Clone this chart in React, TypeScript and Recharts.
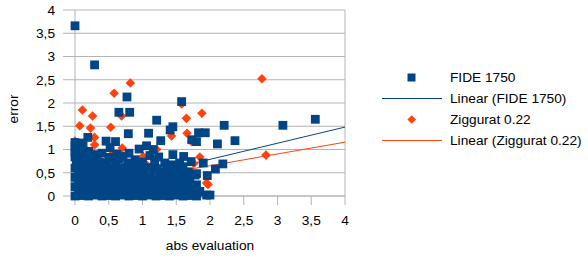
import React from 'react';
import {
  ScatterChart,
  Scatter,
  XAxis,
  YAxis,
  CartesianGrid,
  ReferenceLine,
  Legend,
  Label,
} from 'recharts';

const FONT = '"Liberation Sans", Arial, sans-serif';
const BLUE = '#004586';
const ORANGE = '#ff420e';
const GRID = '#b3b3b3';

const xTicks = [0, 0.5, 1, 1.5, 2, 2.5, 3, 3.5, 4];
const yTicks = [0, 0.5, 1, 1.5, 2, 2.5, 3, 3.5, 4];

// FIDE 1750 — outliers and upper part of the cloud
const fideUpper: [number, number][] = [
  [0.0, 3.66], [0.29, 2.82], [0.77, 2.13], [0.65, 1.8], [0.81, 1.8],
  [1.58, 2.03], [1.21, 1.63], [1.45, 1.49], [1.41, 1.42], [3.08, 1.52],
  [3.56, 1.65], [2.21, 1.52], [2.37, 1.19], [2.11, 1.12], [1.93, 1.36],
  [1.83, 1.36], [1.73, 1.21], [1.8, 1.17], [1.09, 1.35], [0.79, 1.34],
  [1.27, 1.19], [1.06, 1.08], [1.16, 1.0], [1.11, 0.87], [0.89, 0.78],
  [1.45, 0.89], [1.61, 0.85], [1.33, 0.71], [1.43, 0.67], [1.9, 0.71],
  [2.19, 0.69], [2.08, 0.58], [1.8, 0.48], [1.96, 0.44], [1.7, 0.35],
  [1.6, 0.63], [1.95, 0.02], [2.0, 0.02], [1.8, 0.24], [1.78, 0.45],
  [0.19, 1.26], [0.46, 1.18], [0.6, 1.17], [0.4, 0.92], [0.57, 0.82],
  [0.71, 0.85], [0.3, 0.78], [0.0, 1.15], [0.08, 1.14], [0.12, 1.08],
];

// FIDE 1750 — the dense band near zero
const fideBand: [number, number][] = [
  [0, 0], [0.1, 0.01], [0.2, 0], [0.3, 0.02], [0.4, 0], [0.5, 0.01],
  [0.6, 0], [0.7, 0.02], [0.8, 0], [0.9, 0.01], [1.0, 0], [1.1, 0.02],
  [1.2, 0], [1.3, 0.01], [1.4, 0], [1.5, 0.02], [1.6, 0], [1.7, 0.01], [1.8, 0],
  [0.05, 0.1], [0.15, 0.09], [0.25, 0.11], [0.35, 0.1], [0.45, 0.09], [0.55, 0.11],
  [0.65, 0.1], [0.75, 0.09], [0.85, 0.11], [0.95, 0.1], [1.05, 0.09], [1.15, 0.11],
  [1.25, 0.1], [1.35, 0.09], [1.45, 0.11], [1.55, 0.1], [1.65, 0.09], [1.75, 0.11],
  [1.85, 0.1],
  [0, 0.2], [0.1, 0.21], [0.2, 0.19], [0.3, 0.2], [0.4, 0.21], [0.5, 0.19],
  [0.6, 0.2], [0.7, 0.21], [0.8, 0.19], [0.9, 0.2], [1.0, 0.21], [1.1, 0.19],
  [1.2, 0.2], [1.3, 0.21], [1.4, 0.19], [1.5, 0.2], [1.6, 0.21], [1.7, 0.19],
  [0.05, 0.3], [0.15, 0.31], [0.25, 0.29], [0.35, 0.3], [0.45, 0.31], [0.55, 0.29],
  [0.65, 0.3], [0.75, 0.31], [0.85, 0.29], [0.95, 0.3], [1.05, 0.31], [1.15, 0.29],
  [1.25, 0.3], [1.37, 0.31], [1.48, 0.29], [1.58, 0.3],
  [0, 0.4], [0.1, 0.41], [0.2, 0.39], [0.3, 0.4], [0.4, 0.41], [0.5, 0.39],
  [0.6, 0.4], [0.7, 0.41], [0.8, 0.39], [0.9, 0.4], [1.0, 0.41], [1.1, 0.39],
  [1.2, 0.4], [1.3, 0.41], [1.4, 0.39], [1.5, 0.4], [1.62, 0.41],
  [0.05, 0.5], [0.15, 0.51], [0.25, 0.49], [0.35, 0.5], [0.45, 0.51], [0.55, 0.49],
  [0.65, 0.5], [0.75, 0.51], [0.85, 0.49], [0.95, 0.5], [1.05, 0.51], [1.15, 0.49],
  [1.25, 0.5], [1.35, 0.51], [1.46, 0.49], [1.56, 0.5], [1.68, 0.52],
  [0, 0.6], [0.1, 0.61], [0.2, 0.59], [0.3, 0.6], [0.4, 0.61], [0.5, 0.59],
  [0.62, 0.6], [0.73, 0.61], [0.85, 0.59], [0.97, 0.6], [1.1, 0.61], [1.22, 0.59],
  [1.36, 0.6], [1.5, 0.58],
  [0.02, 0.72], [0.12, 0.73], [0.22, 0.71], [0.37, 0.72], [0.47, 0.7], [0.6, 0.74],
  [0.78, 0.71], [0.9, 0.68], [1.0, 0.73], [1.18, 0.72], [1.55, 0.71], [1.72, 0.74],
  [0, 0.84], [0.09, 0.82], [0.2, 0.85], [0.5, 0.83], [0.65, 0.8], [1.24, 0.84],
  [0, 0.95], [0.08, 0.93], [0.2, 0.96], [0.33, 0.89], [0.62, 0.9], [0.8, 0.92],
  [0, 1.05], [0.07, 1.04], [0.52, 1.04], [0.95, 1.01],
];

const zigguratPoints: [number, number][] = [
  [0.11, 1.85], [0.26, 1.72], [0.07, 1.51], [0.23, 1.46], [0.53, 1.48],
  [0.58, 2.21], [0.82, 2.43], [0.69, 1.72], [1.58, 1.98], [1.65, 1.67],
  [1.88, 1.78], [2.77, 2.52], [2.83, 0.88], [1.66, 1.35], [1.85, 0.84],
  [1.76, 0.7], [1.97, 0.25], [1.84, 0.02], [1.73, 1.17], [1.43, 1.29],
  [1.21, 1.0], [1.01, 0.85], [1.31, 0.31], [1.65, 0.19], [0.0, 1.18],
  [0.29, 1.26], [0.29, 1.1], [0.25, 0.94], [0.55, 0.9], [0.7, 1.03],
  [0.1, 0.95], [0.15, 0.99], [0.28, 0.88], [0.13, 0.67], [0.84, 0.6],
  [0.82, 0.67], [1.21, 0.81], [1.95, 0.28], [1.06, 0.67], [0.3, 0.5],
  [0.6, 0.4], [1.0, 0.2], [0.45, 0.15], [1.4, 0.55],
];

// linear trend lines: [intercept, slope]
const fideTrend = [0.094, 0.347];
const zigguratTrend = [0.145, 0.253];

const toXY = (pts: [number, number][]) => pts.map(([x, y]) => ({ x, y }));
const fideData = toXY([...fideBand, ...fideUpper]);
const zigguratData = toXY(zigguratPoints);

const trendSegment = ([a, b]: number[]) => [
  { x: 0, y: a },
  { x: 4, y: a + b * 4 },
];

const fmt = (v: number) => String(v).replace('.', ',');

const Square = (props: any) => {
  const { cx, cy } = props;
  return <rect x={cx - 4.4} y={cy - 4.4} width={8.8} height={8.8} fill={BLUE} />;
};

const Diamond = (props: any) => {
  const { cx, cy } = props;
  const r = 4.8;
  return (
    <polygon
      points={`${cx},${cy - r} ${cx + r},${cy} ${cx},${cy + r} ${cx - r},${cy}`}
      fill={ORANGE}
    />
  );
};

const legendItems = [
  { label: 'FIDE 1750', kind: 'square' },
  { label: 'Linear (FIDE 1750)', kind: 'line', color: BLUE },
  { label: 'Ziggurat 0.22', kind: 'diamond' },
  { label: 'Linear (Ziggurat 0.22)', kind: 'line', color: ORANGE },
];

function renderLegend() {
  return (
    <div style={{ fontFamily: FONT, fontSize: 13.7, color: '#000' }}>
      {legendItems.map((item) => (
        <div key={item.label} style={{ display: 'flex', alignItems: 'center', height: 21.3 }}>
          <svg width={70} height={21} style={{ flex: 'none' }}>
            {item.kind === 'square' && <rect x={27.5} y={6.5} width={8} height={8} fill={BLUE} />}
            {item.kind === 'diamond' && (
              <polygon points="31.7,6.3 36,10.5 31.7,14.7 27.4,10.5" fill={ORANGE} />
            )}
            {item.kind === 'line' && (
              <line x1={2} y1={10.5} x2={62} y2={10.5} stroke={item.color} strokeWidth={1.2} />
            )}
          </svg>
          <span style={{ whiteSpace: 'nowrap' }}>{item.label}</span>
        </div>
      ))}
    </div>
  );
}

export default function App() {
  const tick = { fontSize: 13.7, fill: '#000', fontFamily: FONT };
  return (
    <div style={{ position: 'absolute', left: 0, top: 0, width: 588, height: 259, background: '#fff' }}>
      <ScatterChart width={588} height={259} margin={{ top: 10, right: 243, bottom: 0, left: 0 }}>
        <CartesianGrid vertical={false} stroke={GRID} />
        <XAxis
          type="number"
          dataKey="x"
          domain={[0, 4]}
          ticks={xTicks}
          tickFormatter={fmt}
          tick={tick}
          stroke={GRID}
          tickSize={9}
          tickMargin={10}
          height={63}
        >
          <Label
            content={() => (
              <text x={210} y={250} textAnchor="middle" fontSize={13.7} fontFamily={FONT} fill="#000">
                abs evaluation
              </text>
            )}
          />
        </XAxis>
        <YAxis
          type="number"
          dataKey="y"
          domain={[0, 4]}
          ticks={yTicks}
          tickFormatter={fmt}
          tick={tick}
          stroke={GRID}
          tickSize={12}
          tickMargin={8}
          width={75}
        >
          <Label
            content={() => (
              <text
                x={18}
                y={109}
                transform="rotate(-90 18 109)"
                textAnchor="middle"
                fontSize={13.7}
                fontFamily={FONT}
                fill="#000"
              >
                error
              </text>
            )}
          />
        </YAxis>
        <ReferenceLine x={4} stroke={GRID} />
        <Scatter
          name="Ziggurat 0.22"
          data={zigguratData}
          shape={Diamond}
          isAnimationActive={false}
        />
        <Scatter name="FIDE 1750" data={fideData} shape={Square} isAnimationActive={false} />
        <ReferenceLine segment={trendSegment(fideTrend)} stroke={BLUE} strokeWidth={1} />
        <ReferenceLine segment={trendSegment(zigguratTrend)} stroke={ORANGE} strokeWidth={1} />
        <Legend
          layout="vertical"
          align="center"
          verticalAlign="middle"
          content={renderLegend}
          wrapperStyle={{ left: 380, top: 66.4, width: 208 }}
        />
      </ScatterChart>
    </div>
  );
}
